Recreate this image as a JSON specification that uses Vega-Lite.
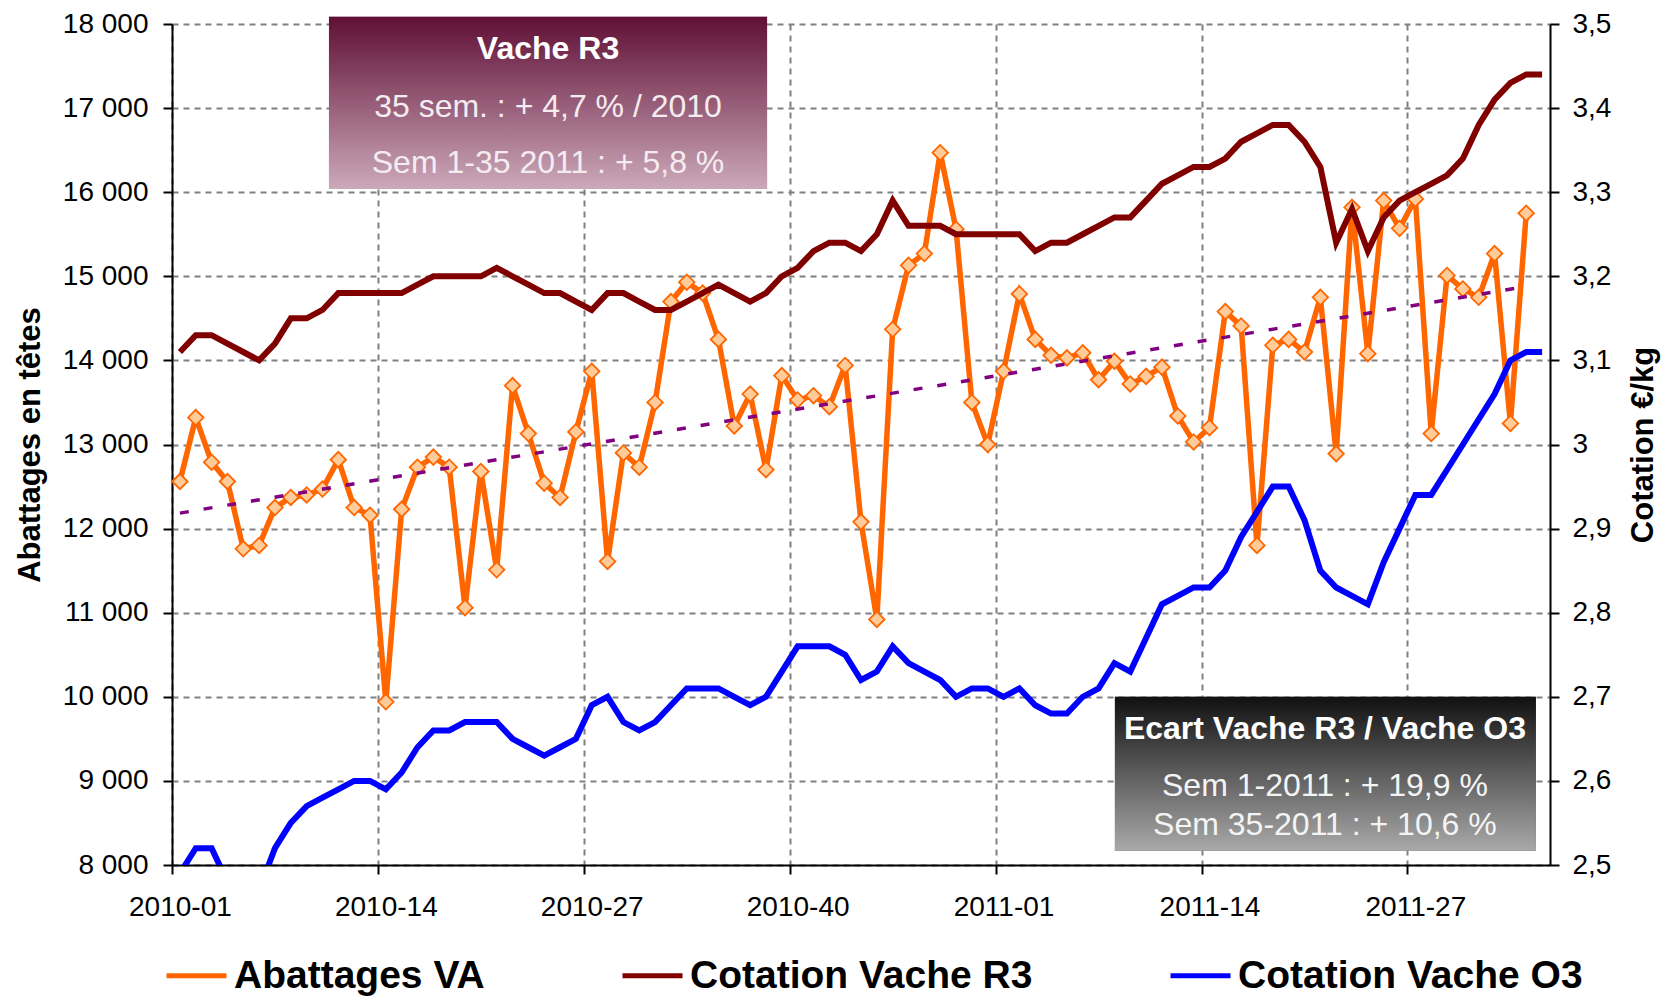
{
  "$schema": "https://vega.github.io/schema/vega-lite/v6.json",
  "width": 1378,
  "height": 841,
  "autosize": {"type": "none"},
  "padding": {"left": 172, "top": 24, "right": 118, "bottom": 132},
  "background": "#ffffff",
  "config": {
    "font": "Liberation Sans",
    "view": {"stroke": null},
    "axis": {
      "labelFont": "Liberation Sans", "labelFontSize": 28, "labelColor": "#000000",
      "domainColor": "#000000", "domainWidth": 2,
      "tickColor": "#000000", "tickWidth": 2, "tickSize": 9,
      "gridColor": "#808080", "gridDash": [6, 5], "gridWidth": 2,
      "titleFont": "Liberation Sans", "titleFontSize": 31, "titleFontWeight": "bold", "titleColor": "#000000"
    }
  },
  "datasets": {
    "semaines": [
      {"i": 0, "week": "2010-01", "abattages": 12560, "r3": 3.11, "o3": 2.49},
      {"i": 1, "week": "2010-02", "abattages": 13320, "r3": 3.13, "o3": 2.52},
      {"i": 2, "week": "2010-03", "abattages": 12790, "r3": 3.13, "o3": 2.52},
      {"i": 3, "week": "2010-04", "abattages": 12560, "r3": 3.12, "o3": 2.48},
      {"i": 4, "week": "2010-05", "abattages": 11760, "r3": 3.11, "o3": 2.47},
      {"i": 5, "week": "2010-06", "abattages": 11800, "r3": 3.10, "o3": 2.47},
      {"i": 6, "week": "2010-07", "abattages": 12250, "r3": 3.12, "o3": 2.52},
      {"i": 7, "week": "2010-08", "abattages": 12370, "r3": 3.15, "o3": 2.55},
      {"i": 8, "week": "2010-09", "abattages": 12400, "r3": 3.15, "o3": 2.57},
      {"i": 9, "week": "2010-10", "abattages": 12470, "r3": 3.16, "o3": 2.58},
      {"i": 10, "week": "2010-11", "abattages": 12820, "r3": 3.18, "o3": 2.59},
      {"i": 11, "week": "2010-12", "abattages": 12250, "r3": 3.18, "o3": 2.60},
      {"i": 12, "week": "2010-13", "abattages": 12160, "r3": 3.18, "o3": 2.60},
      {"i": 13, "week": "2010-14", "abattages": 9940, "r3": 3.18, "o3": 2.59},
      {"i": 14, "week": "2010-15", "abattages": 12230, "r3": 3.18, "o3": 2.61},
      {"i": 15, "week": "2010-16", "abattages": 12730, "r3": 3.19, "o3": 2.64},
      {"i": 16, "week": "2010-17", "abattages": 12850, "r3": 3.20, "o3": 2.66},
      {"i": 17, "week": "2010-18", "abattages": 12730, "r3": 3.20, "o3": 2.66},
      {"i": 18, "week": "2010-19", "abattages": 11060, "r3": 3.20, "o3": 2.67},
      {"i": 19, "week": "2010-20", "abattages": 12680, "r3": 3.20, "o3": 2.67},
      {"i": 20, "week": "2010-21", "abattages": 11510, "r3": 3.21, "o3": 2.67},
      {"i": 21, "week": "2010-22", "abattages": 13700, "r3": 3.20, "o3": 2.65},
      {"i": 22, "week": "2010-23", "abattages": 13130, "r3": 3.19, "o3": 2.64},
      {"i": 23, "week": "2010-24", "abattages": 12540, "r3": 3.18, "o3": 2.63},
      {"i": 24, "week": "2010-25", "abattages": 12370, "r3": 3.18, "o3": 2.64},
      {"i": 25, "week": "2010-26", "abattages": 13150, "r3": 3.17, "o3": 2.65},
      {"i": 26, "week": "2010-27", "abattages": 13870, "r3": 3.16, "o3": 2.69},
      {"i": 27, "week": "2010-28", "abattages": 11610, "r3": 3.18, "o3": 2.70},
      {"i": 28, "week": "2010-29", "abattages": 12900, "r3": 3.18, "o3": 2.67},
      {"i": 29, "week": "2010-30", "abattages": 12730, "r3": 3.17, "o3": 2.66},
      {"i": 30, "week": "2010-31", "abattages": 13500, "r3": 3.16, "o3": 2.67},
      {"i": 31, "week": "2010-32", "abattages": 14700, "r3": 3.16, "o3": 2.69},
      {"i": 32, "week": "2010-33", "abattages": 14930, "r3": 3.17, "o3": 2.71},
      {"i": 33, "week": "2010-34", "abattages": 14800, "r3": 3.18, "o3": 2.71},
      {"i": 34, "week": "2010-35", "abattages": 14250, "r3": 3.19, "o3": 2.71},
      {"i": 35, "week": "2010-36", "abattages": 13220, "r3": 3.18, "o3": 2.70},
      {"i": 36, "week": "2010-37", "abattages": 13600, "r3": 3.17, "o3": 2.69},
      {"i": 37, "week": "2010-38", "abattages": 12700, "r3": 3.18, "o3": 2.70},
      {"i": 38, "week": "2010-39", "abattages": 13820, "r3": 3.20, "o3": 2.73},
      {"i": 39, "week": "2010-40", "abattages": 13530, "r3": 3.21, "o3": 2.76},
      {"i": 40, "week": "2010-41", "abattages": 13580, "r3": 3.23, "o3": 2.76},
      {"i": 41, "week": "2010-42", "abattages": 13450, "r3": 3.24, "o3": 2.76},
      {"i": 42, "week": "2010-43", "abattages": 13940, "r3": 3.24, "o3": 2.75},
      {"i": 43, "week": "2010-44", "abattages": 12080, "r3": 3.23, "o3": 2.72},
      {"i": 44, "week": "2010-45", "abattages": 10920, "r3": 3.25, "o3": 2.73},
      {"i": 45, "week": "2010-46", "abattages": 14370, "r3": 3.29, "o3": 2.76},
      {"i": 46, "week": "2010-47", "abattages": 15130, "r3": 3.26, "o3": 2.74},
      {"i": 47, "week": "2010-48", "abattages": 15270, "r3": 3.26, "o3": 2.73},
      {"i": 48, "week": "2010-49", "abattages": 16470, "r3": 3.26, "o3": 2.72},
      {"i": 49, "week": "2010-50", "abattages": 15560, "r3": 3.25, "o3": 2.70},
      {"i": 50, "week": "2010-51", "abattages": 13500, "r3": 3.25, "o3": 2.71},
      {"i": 51, "week": "2010-52", "abattages": 13000, "r3": 3.25, "o3": 2.71},
      {"i": 52, "week": "2011-01", "abattages": 13870, "r3": 3.25, "o3": 2.70},
      {"i": 53, "week": "2011-02", "abattages": 14790, "r3": 3.25, "o3": 2.71},
      {"i": 54, "week": "2011-03", "abattages": 14250, "r3": 3.23, "o3": 2.69},
      {"i": 55, "week": "2011-04", "abattages": 14060, "r3": 3.24, "o3": 2.68},
      {"i": 56, "week": "2011-05", "abattages": 14030, "r3": 3.24, "o3": 2.68},
      {"i": 57, "week": "2011-06", "abattages": 14090, "r3": 3.25, "o3": 2.70},
      {"i": 58, "week": "2011-07", "abattages": 13770, "r3": 3.26, "o3": 2.71},
      {"i": 59, "week": "2011-08", "abattages": 13990, "r3": 3.27, "o3": 2.74},
      {"i": 60, "week": "2011-09", "abattages": 13720, "r3": 3.27, "o3": 2.73},
      {"i": 61, "week": "2011-10", "abattages": 13810, "r3": 3.29, "o3": 2.77},
      {"i": 62, "week": "2011-11", "abattages": 13920, "r3": 3.31, "o3": 2.81},
      {"i": 63, "week": "2011-12", "abattages": 13340, "r3": 3.32, "o3": 2.82},
      {"i": 64, "week": "2011-13", "abattages": 13030, "r3": 3.33, "o3": 2.83},
      {"i": 65, "week": "2011-14", "abattages": 13200, "r3": 3.33, "o3": 2.83},
      {"i": 66, "week": "2011-15", "abattages": 14580, "r3": 3.34, "o3": 2.85},
      {"i": 67, "week": "2011-16", "abattages": 14410, "r3": 3.36, "o3": 2.89},
      {"i": 68, "week": "2011-17", "abattages": 11800, "r3": 3.37, "o3": 2.92},
      {"i": 69, "week": "2011-18", "abattages": 14180, "r3": 3.38, "o3": 2.95},
      {"i": 70, "week": "2011-19", "abattages": 14250, "r3": 3.38, "o3": 2.95},
      {"i": 71, "week": "2011-20", "abattages": 14100, "r3": 3.36, "o3": 2.91},
      {"i": 72, "week": "2011-21", "abattages": 14750, "r3": 3.33, "o3": 2.85},
      {"i": 73, "week": "2011-22", "abattages": 12890, "r3": 3.24, "o3": 2.83},
      {"i": 74, "week": "2011-23", "abattages": 15820, "r3": 3.28, "o3": 2.82},
      {"i": 75, "week": "2011-24", "abattages": 14080, "r3": 3.23, "o3": 2.81},
      {"i": 76, "week": "2011-25", "abattages": 15900, "r3": 3.27, "o3": 2.86},
      {"i": 77, "week": "2011-26", "abattages": 15570, "r3": 3.29, "o3": 2.90},
      {"i": 78, "week": "2011-27", "abattages": 15920, "r3": 3.30, "o3": 2.94},
      {"i": 79, "week": "2011-28", "abattages": 13130, "r3": 3.31, "o3": 2.94},
      {"i": 80, "week": "2011-29", "abattages": 15010, "r3": 3.32, "o3": 2.97},
      {"i": 81, "week": "2011-30", "abattages": 14850, "r3": 3.34, "o3": 3.00},
      {"i": 82, "week": "2011-31", "abattages": 14750, "r3": 3.38, "o3": 3.03},
      {"i": 83, "week": "2011-32", "abattages": 15270, "r3": 3.41, "o3": 3.06},
      {"i": 84, "week": "2011-33", "abattages": 13250, "r3": 3.43, "o3": 3.10},
      {"i": 85, "week": "2011-34", "abattages": 15750, "r3": 3.44, "o3": 3.11},
      {"i": 86, "week": "2011-35", "abattages": null, "r3": 3.44, "o3": 3.11}
    ],
    "encadres": [
      {"encadre": "Vache R3"},
      {"encadre": "Ecart Vache R3 / Vache O3"}
    ]
  },
  "data": {"name": "semaines"},
  "layer": [
    {
      "encoding": {
        "x": {
          "field": "i", "type": "quantitative",
          "scale": {"domain": [-0.5, 86.5], "nice": false, "zero": false},
          "axis": {
            "title": null, "orient": "bottom",
            "values": [-0.5, 12.5, 25.5, 38.5, 51.5, 64.5, 77.5],
            "grid": true, "labelOffset": 7.92, "labelPadding": 19,
            "labelFlush": false, "labelOverlap": false, "labelBound": false,
            "labelExpr": "(datum.value < 51 ? '2010-' : '2011-') + ((datum.value + 0.5) % 52 + 1 < 10 ? '0' : '') + ((datum.value + 0.5) % 52 + 1)"
          }
        },
        "y": {
          "field": "abattages", "type": "quantitative",
          "scale": {"domain": [8000, 18000], "nice": false, "zero": false},
          "axis": {
            "orient": "left", "title": "Abattages en têtes",
            "values": [8000, 9000, 10000, 11000, 12000, 13000, 14000, 15000, 16000, 17000, 18000],
            "grid": true, "labelPadding": 15,
            "labelExpr": "replace(format(datum.value, ','), ',', ' ')",
            "titleX": -142, "titleY": 420.5, "titleAngle": -90, "titleBaseline": "middle", "titleAlign": "center"
          }
        }
      },
      "layer": [
        {
          "mark": {"type": "line", "strokeWidth": 5.5},
          "encoding": {
            "color": {
              "datum": "Abattages VA", "type": "nominal",
              "scale": {"domain": ["Abattages VA", "Cotation Vache R3", "Cotation Vache O3"], "range": ["#FF6600", "#800000", "#0000FF"]},
              "legend": {
                "title": null, "orient": "none", "legendX": -8, "legendY": 919, "direction": "horizontal",
                "labelFont": "Liberation Sans", "labelFontSize": 39, "labelFontWeight": "bold", "labelColor": "#000000",
                "symbolType": "stroke", "symbolStrokeWidth": 5, "symbolSize": 3600,
                "columnPadding": 127, "labelOffset": 5, "labelLimit": 0, "padding": 0
              }
            }
          }
        },
        {
          "mark": {"type": "point", "shape": "diamond", "filled": true, "fill": "#FFCC99", "stroke": "#FF6600", "strokeWidth": 1.8, "size": 240, "opacity": 1}
        },
        {
          "transform": [
            {"filter": "isValid(datum.abattages)"},
            {"regression": "abattages", "on": "i"}
          ],
          "mark": {"type": "line", "color": "#800080", "strokeWidth": 3.5, "strokeDash": [9, 15]}
        }
      ]
    },
    {
      "layer": [
        {
          "mark": {"type": "line", "strokeWidth": 6},
          "encoding": {
            "x": {"field": "i", "type": "quantitative"},
            "y": {
              "field": "r3", "type": "quantitative",
              "scale": {"domain": [2.5, 3.5], "nice": false, "zero": false},
              "axis": {
                "orient": "right", "title": "Cotation €/kg",
                "values": [2.5, 2.6, 2.7, 2.8, 2.9, 3.0, 3.1, 3.2, 3.3, 3.4, 3.5],
                "grid": false, "labelPadding": 13,
                "labelExpr": "replace(format(datum.value, '.2~f'), '.', ',')",
                "titleX": 93, "titleY": 420.5, "titleAngle": -90, "titleBaseline": "middle", "titleAlign": "center"
              }
            },
            "color": {"datum": "Cotation Vache R3", "type": "nominal"}
          }
        },
        {
          "mark": {"type": "line", "strokeWidth": 6, "clip": true},
          "encoding": {
            "x": {"field": "i", "type": "quantitative"},
            "y": {"field": "o3", "type": "quantitative"},
            "color": {"datum": "Cotation Vache O3", "type": "nominal"}
          }
        },
        {
          "data": {"name": "encadres"},
          "transform": [{"filter": "datum.encadre == 'Vache R3'"}],
          "mark": {"type": "rect", "color": "#9a6a80", "opacity": 1},
          "encoding": {
            "x": {"datum": 9.41, "type": "quantitative"}, "x2": {"datum": 37.07},
            "y": {"datum": 3.5087, "type": "quantitative"}, "y2": {"datum": 3.3038}
          }
        },
        {
          "data": {"name": "encadres"},
          "transform": [{"filter": "datum.encadre == 'Vache R3'"}],
          "mark": {"type": "rect", "opacity": 1, "color": {"gradient": "linear", "x1": 0, "y1": 0, "x2": 0, "y2": 1, "stops": [{"offset": 0, "color": "#5f0f35"}, {"offset": 1, "color": "#cca9ba"}]}},
          "encoding": {
            "x": {"datum": 9.41, "type": "quantitative"}, "x2": {"datum": 37.07},
            "y": {"datum": 3.5087, "type": "quantitative"}, "y2": {"datum": 3.3038}
          }
        },
        {
          "data": {"name": "encadres"},
          "transform": [{"filter": "datum.encadre != 'Vache R3'"}],
          "mark": {"type": "rect", "color": "#5e5e5e", "opacity": 1},
          "encoding": {
            "x": {"datum": 59.03, "type": "quantitative"}, "x2": {"datum": 85.61},
            "y": {"datum": 2.7001, "type": "quantitative"}, "y2": {"datum": 2.517}
          }
        },
        {
          "data": {"name": "encadres"},
          "transform": [{"filter": "datum.encadre != 'Vache R3'"}],
          "mark": {"type": "rect", "opacity": 1, "color": {"gradient": "linear", "x1": 0, "y1": 0, "x2": 0, "y2": 1, "stops": [{"offset": 0, "color": "#111111"}, {"offset": 1, "color": "#a9a9a9"}]}},
          "encoding": {
            "x": {"datum": 59.03, "type": "quantitative"}, "x2": {"datum": 85.61},
            "y": {"datum": 2.7001, "type": "quantitative"}, "y2": {"datum": 2.517}
          }
        },
        {
          "data": {"name": "encadres"},
          "transform": [{"filter": "datum.encadre == 'Vache R3'"}],
          "mark": {"type": "text", "font": "Liberation Sans", "fontSize": 32, "fontWeight": "bold", "color": "#ffffff", "align": "center", "baseline": "middle"},
          "encoding": {
            "text": {"field": "encadre"},
            "x": {"datum": 23.24, "type": "quantitative"},
            "y": {"datum": 3.4706, "type": "quantitative"}
          }
        },
        {
          "data": {"name": "encadres"},
          "transform": [{"filter": "datum.encadre == 'Vache R3'"}],
          "mark": {"type": "text", "text": "35 sem. : + 4,7 % / 2010", "font": "Liberation Sans", "fontSize": 32, "color": "#f5ecf0", "align": "center", "baseline": "middle"},
          "encoding": {
            "x": {"datum": 23.24, "type": "quantitative"},
            "y": {"datum": 3.4017, "type": "quantitative"}
          }
        },
        {
          "data": {"name": "encadres"},
          "transform": [{"filter": "datum.encadre == 'Vache R3'"}],
          "mark": {"type": "text", "text": "Sem 1-35 2011 : + 5,8 %", "font": "Liberation Sans", "fontSize": 32, "color": "#f5ecf0", "align": "center", "baseline": "middle"},
          "encoding": {
            "x": {"datum": 23.24, "type": "quantitative"},
            "y": {"datum": 3.3345, "type": "quantitative"}
          }
        },
        {
          "data": {"name": "encadres"},
          "transform": [{"filter": "datum.encadre != 'Vache R3'"}],
          "mark": {"type": "text", "font": "Liberation Sans", "fontSize": 32, "fontWeight": "bold", "color": "#ffffff", "align": "center", "baseline": "middle"},
          "encoding": {
            "text": {"field": "encadre"},
            "x": {"datum": 72.29, "type": "quantitative"},
            "y": {"datum": 2.662, "type": "quantitative"}
          }
        },
        {
          "data": {"name": "encadres"},
          "transform": [{"filter": "datum.encadre != 'Vache R3'"}],
          "mark": {"type": "text", "text": "Sem 1-2011 : + 19,9 %", "font": "Liberation Sans", "fontSize": 32, "color": "#f4f4f4", "align": "center", "baseline": "middle"},
          "encoding": {
            "x": {"datum": 72.29, "type": "quantitative"},
            "y": {"datum": 2.5935, "type": "quantitative"}
          }
        },
        {
          "data": {"name": "encadres"},
          "transform": [{"filter": "datum.encadre != 'Vache R3'"}],
          "mark": {"type": "text", "text": "Sem 35-2011 : + 10,6 %", "font": "Liberation Sans", "fontSize": 32, "color": "#f4f4f4", "align": "center", "baseline": "middle"},
          "encoding": {
            "x": {"datum": 72.29, "type": "quantitative"},
            "y": {"datum": 2.5479, "type": "quantitative"}
          }
        }
      ]
    }
  ],
  "resolve": {"scale": {"y": "independent"}}
}
